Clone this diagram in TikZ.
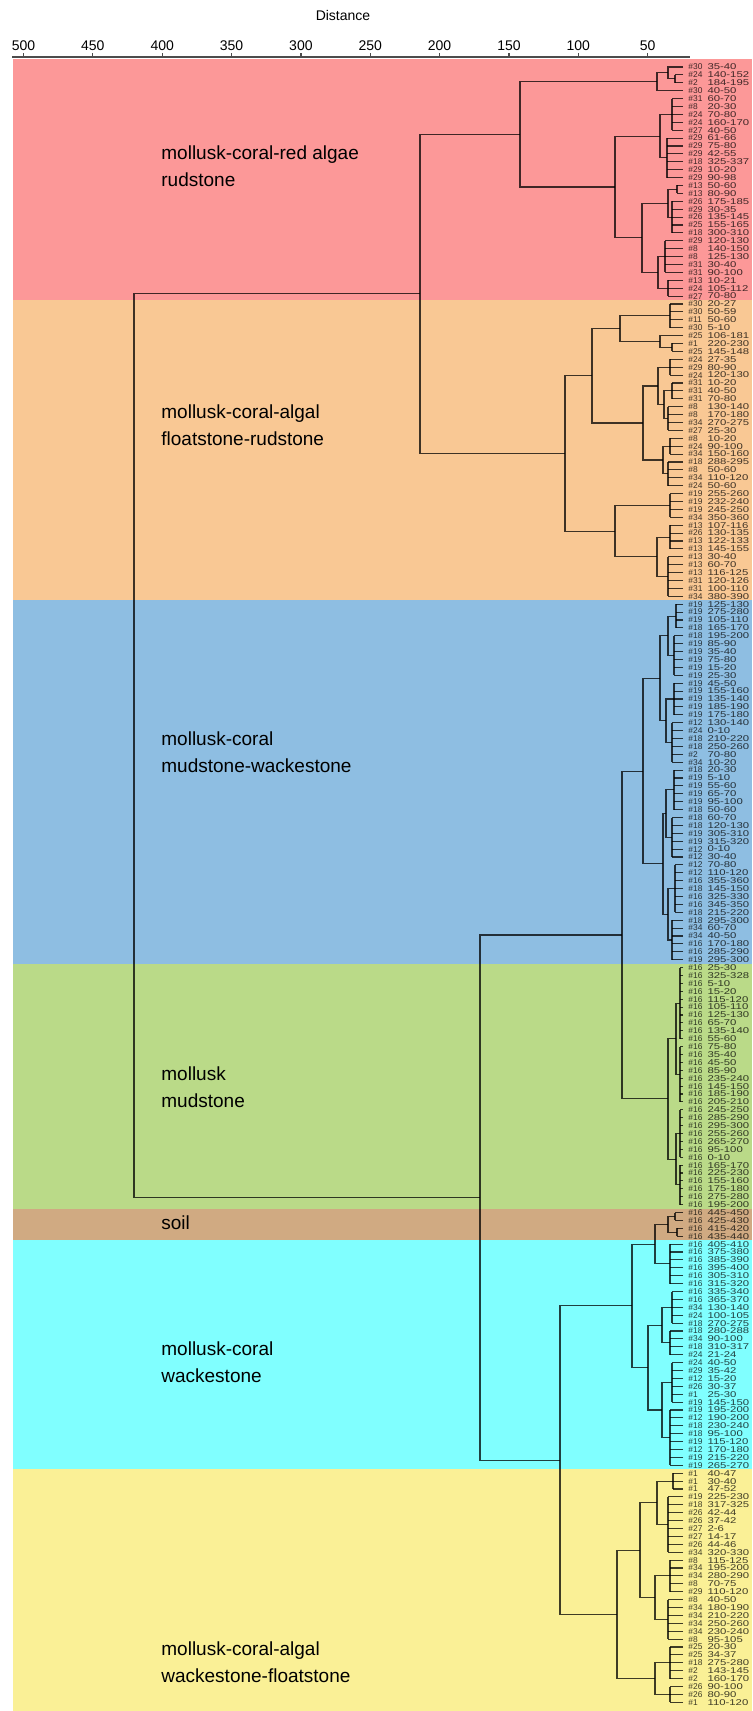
\documentclass[tikz,border=0pt]{standalone}
\usepackage{fontspec}
\setmainfont{Liberation Sans}
\usetikzlibrary{calc}

\definecolor{redband}{RGB}{252,152,152}
\definecolor{orangeband}{RGB}{249,200,148}
\definecolor{blueband}{RGB}{142,190,226}
\definecolor{greenband}{RGB}{186,218,136}
\definecolor{soilband}{RGB}{208,170,130}
\definecolor{cyanband}{RGB}{128,255,255}
\definecolor{yellowband}{RGB}{250,240,150}

\tikzset{
  link/.style={black, opacity=0.75, line width=0.55pt},
  leafid/.style={anchor=west, inner sep=0pt, font=\fontsize{4.2}{4.2}\selectfont, text opacity=0.75},
  leafrange/.style={anchor=west, inner sep=0pt, xscale=1.35, font=\fontsize{4.2}{4.2}\selectfont, text opacity=0.75},
  bandtext/.style={anchor=west, align=left, inner sep=0pt, font=\fontsize{9.5}{13.5}\selectfont},
  axistext/.style={inner sep=0pt, font=\fontsize{7}{8}\selectfont}
}

% y of leaf number #1 (pixels from the top)
\newcommand{\leafy}[1]{67+(#1-1)*7.9}

% join two clusters at distance column #2
\newcommand{\merge}[4]{%
  \coordinate (mx) at (#2,0);
  \coordinate (mm) at ($(#3)!.5!(#4)$);
  \coordinate (#1) at (mm -| mx);
  \draw[link] (#3) -| (#1) |- (#4);
}
% neighbouring leaves #3..#4 joined at column #2
\newcommand{\bundle}[4]{%
  \coordinate (mx) at (#2,0);
  \coordinate (mm) at ($(l#3)!.5!(l#4)$);
  \coordinate (#1) at (mm -| mx);
  \foreach \k in {#3,...,#4} {\draw[link] (l\k) -- (l\k -| mx);}
  \draw[link] (l#3 -| mx) -- (l#4 -| mx);
}

\begin{document}
\begin{tikzpicture}[x=0.5pt, y=-0.5pt]
  \useasboundingbox (0,0) rectangle (752,1711);

  % Bands
  \fill[redband] (13,59) rectangle (752,{\leafy{30.5}});
  \fill[orangeband] (13,{\leafy{30.5}}) rectangle (752,{\leafy{68.5}});
  \fill[blueband] (13,{\leafy{68.5}}) rectangle (752,{\leafy{114.5}});
  \fill[greenband] (13,{\leafy{114.5}}) rectangle (752,{\leafy{145.5}});
  \fill[soilband] (13,{\leafy{145.5}}) rectangle (752,{\leafy{149.5}});
  \fill[cyanband] (13,{\leafy{149.5}}) rectangle (752,{\leafy{178.5}});
  \fill[yellowband] (13,{\leafy{178.5}}) rectangle (752,1711);

  % Distance axis
  \node[axistext] (axtitle) at (343,16) {Distance};
  \draw[black!70, line width=0.6pt] (12,57) -- (690,57);
  \foreach \d in {50,100,...,500} {
    \draw[black!70, line width=0.6pt] ({717-1.387*\d},57) -- ({717-1.387*\d},53);
    \node[axistext] (t\d) at ({717-1.387*\d},46) {\d};
  }

  % Leaves
  \foreach \id/\rg [count=\i] in {
    30/35-40, 24/140-152, 2/184-195, 30/40-50, 31/60-70, 8/20-30, 24/70-80, 24/160-170,
    27/40-50, 29/61-66, 29/75-80, 29/42-55, 18/325-337, 29/10-20, 29/90-98, 13/50-60,
    13/80-90, 26/175-185, 29/30-35, 26/135-145, 25/155-165, 18/300-310, 29/120-130,
    8/140-150, 8/125-130, 31/30-40, 31/90-100, 13/10-21, 24/105-112, 27/70-80,
    30/20-27, 30/50-59, 11/50-60, 30/5-10, 25/106-181, 1/220-230, 25/145-148, 24/27-35,
    29/80-90, 24/120-130, 31/10-20, 31/40-50, 31/70-80, 8/130-140, 8/170-180, 34/270-275,
    27/25-30, 8/10-20, 24/90-100, 34/150-160, 18/288-295, 8/50-60, 34/110-120, 24/50-60,
    19/255-260, 19/232-240, 19/245-250, 34/350-360, 13/107-116, 26/130-135, 13/122-133,
    13/145-155, 13/30-40, 13/60-70, 13/116-125, 31/120-126, 31/100-110, 34/380-390,
    19/125-130, 19/275-280, 19/105-110, 18/165-170, 18/195-200, 19/85-90, 19/35-40,
    19/75-80, 19/15-20, 19/25-30, 19/45-50, 19/155-160, 19/135-140, 19/185-190,
    19/175-180, 12/130-140, 24/0-10, 18/210-220, 18/250-260, 2/70-80, 34/10-20, 18/20-30,
    19/5-10, 19/55-60, 19/65-70, 19/95-100, 18/50-60, 18/60-70, 18/120-130, 19/305-310,
    19/315-320, 12/0-10, 12/30-40, 12/70-80, 12/110-120, 16/355-360, 18/145-150,
    16/325-330, 16/345-350, 18/215-220, 18/295-300, 34/60-70, 34/40-50, 16/170-180,
    16/285-290, 19/295-300,
    16/25-30, 16/325-328, 16/5-10, 16/15-20, 16/115-120, 16/105-110, 16/125-130, 16/65-70,
    16/135-140, 16/55-60, 16/75-80, 16/35-40, 16/45-50, 16/85-90, 16/235-240, 16/145-150,
    16/185-190, 16/205-210, 16/245-250, 16/285-290, 16/295-300, 16/255-260, 16/265-270,
    16/95-100, 16/0-10, 16/165-170, 16/225-230, 16/155-160, 16/175-180, 16/275-280,
    16/195-200,
    16/445-450, 16/425-430, 16/415-420, 16/435-440,
    16/405-410, 16/375-380, 16/385-390, 16/395-400, 16/305-310, 16/315-320, 16/335-340,
    16/365-370, 34/130-140, 24/100-105, 18/270-275, 18/280-288, 34/90-100, 18/310-317,
    24/21-24, 24/40-50, 29/35-42, 12/15-20, 26/30-37, 1/25-30, 19/145-150, 19/195-200,
    12/190-200, 18/230-240, 18/95-100, 19/115-120, 12/170-180, 19/215-220, 19/265-270,
    1/40-47, 1/30-40, 1/47-52, 19/225-230, 18/317-325, 26/42-44, 26/37-42, 27/2-6,
    27/14-17, 26/44-46, 34/320-330, 8/115-125, 34/195-200, 34/280-290, 8/70-75,
    29/110-120, 8/40-50, 34/180-190, 34/210-220, 34/250-260, 34/230-240, 8/95-105,
    25/20-30, 25/34-37, 18/275-280, 2/143-145, 2/160-170, 26/90-100, 26/80-90, 1/110-120} {
    \coordinate (l\i) at (683,{\leafy{\i}});
    \node[leafid] (id\i) at (688,{\leafy{\i}}) {\#\id};
    \node[leafrange] (rg\i) at (707,{\leafy{\i}}) {\rg};
  }

  % Red cluster
  \bundle{a1}{675}{2}{3}
  \merge{a2}{668}{l1}{a1}
  \merge{A}{657}{a2}{l4}
  \bundle{b1}{672}{5}{9}
  \bundle{b2}{667}{10}{15}
  \merge{B}{660}{b1}{b2}
  \bundle{d1a}{677}{16}{17}
  \bundle{d1b}{672}{18}{22}
  \merge{D1}{668}{d1a}{d1b}
  \bundle{d2a}{665}{23}{27}
  \bundle{d2b}{668}{28}{30}
  \merge{D2}{658}{d2a}{d2b}
  \merge{D}{642}{D1}{D2}
  \merge{C}{615}{B}{D}
  \merge{R}{520}{A}{C}

  % Orange cluster
  \bundle{o1a}{670}{31}{34}
  \bundle{o1c}{672}{36}{37}
  \merge{o1b}{660}{l35}{o1c}
  \merge{O1}{620}{o1a}{o1b}
  \bundle{o2a}{670}{38}{40}
  \bundle{o2b}{672}{41}{43}
  \bundle{o2c}{668}{44}{47}
  \merge{o2d}{664}{o2b}{o2c}
  \merge{O2a}{658}{o2a}{o2d}
  \bundle{o2e}{670}{48}{50}
  \bundle{o2f}{668}{51}{54}
  \merge{O2b}{663}{o2e}{o2f}
  \merge{O2}{643}{O2a}{O2b}
  \bundle{o3a}{670}{55}{58}
  \bundle{o3b}{670}{59}{62}
  \bundle{o3c}{668}{63}{68}
  \merge{O3b}{657}{o3b}{o3c}
  \merge{O3}{615}{o3a}{O3b}
  \merge{O12}{592}{O1}{O2}
  \merge{O}{565}{O12}{O3}
  \merge{RO}{420}{R}{O}

  % Blue and green clusters
  \bundle{ba1}{676}{69}{72}
  \bundle{ba2}{674}{73}{78}
  \merge{Ba1}{668}{ba1}{ba2}
  \bundle{ba3}{674}{79}{83}
  \bundle{ba4}{672}{84}{89}
  \merge{Ba2}{666}{ba3}{ba4}
  \merge{Ba}{660}{Ba1}{Ba2}
  \bundle{bb1}{674}{90}{95}
  \bundle{bb2}{672}{96}{101}
  \merge{Bb1}{666}{bb1}{bb2}
  \bundle{bb3}{675}{102}{108}
  \bundle{bb4}{672}{109}{114}
  \merge{Bb2}{668}{bb3}{bb4}
  \merge{Bb}{663}{Bb1}{Bb2}
  \merge{Bu}{643}{Ba}{Bb}
  \bundle{g1}{680}{115}{124}
  \bundle{g2}{680}{125}{132}
  \merge{G1}{676}{g1}{g2}
  \bundle{g3}{680}{133}{139}
  \bundle{g4}{680}{140}{145}
  \merge{G2}{676}{g3}{g4}
  \merge{G}{668}{G1}{G2}
  \merge{BG}{622}{Bu}{G}

  % Soil and cyan clusters
  \bundle{s1}{675}{146}{147}
  \bundle{s2}{677}{148}{149}
  \merge{S1}{668}{s1}{s2}
  \bundle{c1}{670}{150}{155}
  \merge{SS}{655}{S1}{c1}
  \bundle{c2}{672}{156}{160}
  \bundle{c3}{670}{161}{164}
  \merge{C2}{662}{c2}{c3}
  \bundle{c4}{672}{165}{170}
  \bundle{c5}{670}{171}{178}
  \merge{C3}{662}{c4}{c5}
  \merge{C23}{648}{C2}{C3}
  \merge{S}{632}{SS}{C23}

  % Yellow cluster
  \bundle{y1}{673}{179}{181}
  \bundle{y2}{668}{182}{189}
  \merge{Y1}{657}{y1}{y2}
  \bundle{y3}{670}{190}{194}
  \bundle{y4}{668}{195}{200}
  \merge{Y2}{655}{y3}{y4}
  \merge{Y12}{640}{Y1}{Y2}
  \bundle{y5}{670}{201}{205}
  \bundle{y6}{670}{206}{208}
  \merge{Y3}{655}{y5}{y6}
  \merge{Y}{617}{Y12}{Y3}
  \merge{SY}{560}{S}{Y}
  \merge{L}{480}{BG}{SY}

  % Root
  \merge{root}{134}{RO}{L}

  % Band labels
  \node[bandtext] (lab1) at (161,166.5) {mollusk-coral-red algae\\rudstone};
  \node[bandtext] (lab2) at (161,425.5) {mollusk-coral-algal\\floatstone-rudstone};
  \node[bandtext] (lab3) at (161,752) {mollusk-coral\\mudstone-wackestone};
  \node[bandtext] (lab4) at (161,1087.5) {mollusk\\mudstone};
  \node[bandtext] (lab5) at (161,1223) {soil};
  \node[bandtext] (lab6) at (161,1362.5) {mollusk-coral\\wackestone};
  \node[bandtext] (lab7) at (161,1662.5) {mollusk-coral-algal\\wackestone-floatstone};
\end{tikzpicture}
\end{document}
